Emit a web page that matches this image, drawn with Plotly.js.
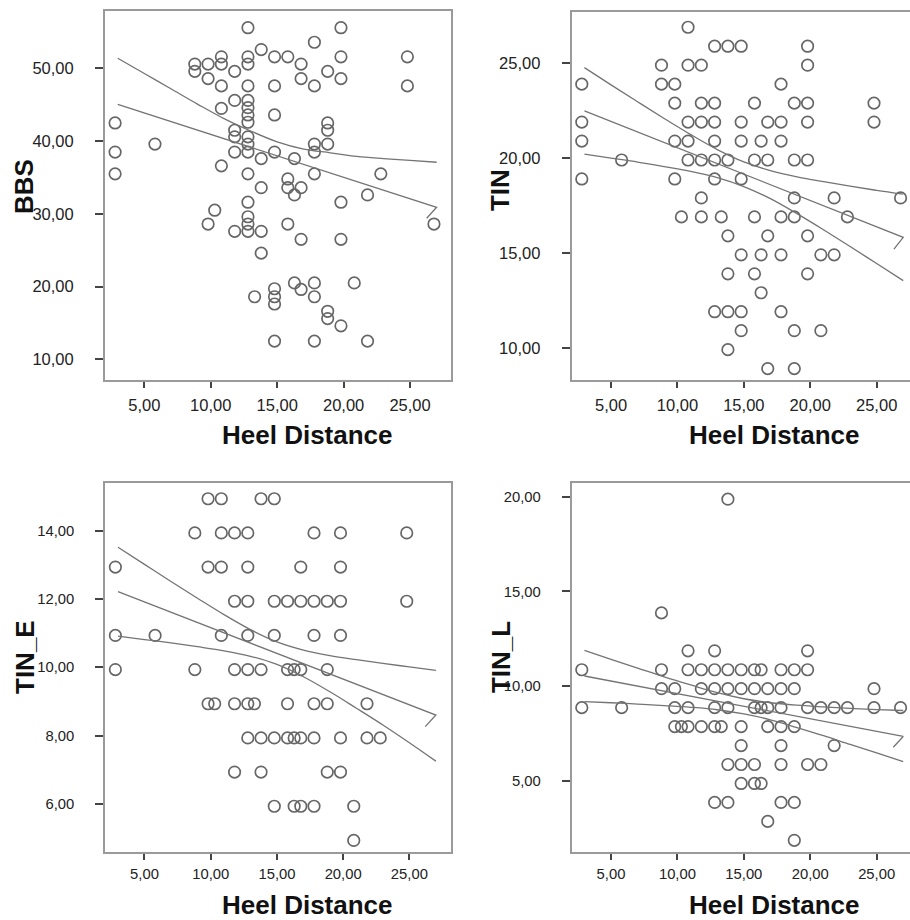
<!DOCTYPE html>
<html><head><meta charset="utf-8">
<script src="https://cdn.plot.ly/plotly-3.0.1.min.js"></script>
<style>html,body{margin:0;padding:0;background:#fff;}</style>
</head><body><div id="chart" style="width:910px;height:920px;"></div>
<script>
// ---------- data ----------
// Panel 1: BBS vs Heel Distance
const heelBBS = [2.8,2.8,2.8, 5.8, 8.8,8.8, 9.8,9.8,9.8, 10.3,
  10.8,10.8,10.8,10.8,10.8, 11.8,11.8,11.8,11.8,11.8,11.8,
  12.8,12.8,12.8,12.8,12.8,12.8,12.8,12.8,12.8,12.8,12.8,12.8,12.8,12.8,12.8,12.8,
  13.3, 13.8,13.8,13.8,13.8,13.8, 14.8,14.8,14.8,14.8,14.8,14.8,14.8,14.8,
  15.8,15.8,15.8,15.8, 16.3,16.3,16.3, 16.8,16.8,16.8,16.8,16.8,
  17.8,17.8,17.8,17.8,17.8,17.8,17.8,17.8, 18.8,18.8,18.8,18.8,18.8,18.8,
  19.8,19.8,19.8,19.8,19.8,19.8, 20.8, 21.8,21.8, 22.8, 24.8,24.8, 26.8];
const bbs = [42.5,38.5,35.5, 39.6, 50.6,49.6, 50.6,48.6,28.6, 30.5,
  51.6,50.6,47.6,44.5,36.6, 49.6,45.6,41.5,40.6,38.5,27.6,
  55.6,51.6,50.6,47.6,45.6,44.6,43.6,42.6,40.6,39.6,38.5,35.5,31.6,29.6,28.6,27.6,
  18.6, 52.6,37.6,33.6,27.6,24.6, 51.6,47.6,43.6,38.5,19.7,18.6,17.6,12.5,
  51.6,34.8,33.6,28.6, 37.6,32.6,20.5, 50.6,48.6,33.6,26.5,19.6,
  53.6,47.6,39.6,38.5,35.5,20.5,18.6,12.5, 49.6,42.5,41.5,39.6,16.6,15.6,
  55.6,51.6,48.6,31.6,26.5,14.6, 20.5, 32.6,12.5, 35.5, 51.6,47.6, 28.6];
const bbsFitX = [3, 27, 26.25];
const bbsFitY = [45.05, 30.9, 29.4];
const bandX = [3,5,7,9,11,13,15,17,19,21,23,25,27];
const bbsUpper = [51.4,49.3,47.2,45.1,43.1,41.4,39.9,38.9,38.4,37.9,37.6,37.35,37.1];

// Panel 2: TIN vs Heel Distance
const heelTIN = [10.8,
  12.8,13.8,14.8,19.8,
  8.8,10.8,11.8,19.8,
  2.8,8.8,9.8,17.8,
  9.8,11.8,12.8,15.8,18.8,19.8,24.8,
  2.8,10.8,11.8,12.8,14.8,16.8,17.8,19.8,24.8,
  2.8,9.8,10.8,12.8,14.8,16.3,17.8,
  5.8,10.8,11.8,12.8,13.8,15.8,16.8,18.8,19.8,
  2.8,9.8,12.8,14.8,
  11.8,18.8,21.8,26.8,
  10.3,11.8,13.3,15.8,17.8,18.8,22.8,
  13.8,16.8,19.8,
  14.8,16.3,17.8,20.8,21.8,
  13.8,15.8,19.8,
  16.3,
  12.8,13.8,14.8,17.8,
  14.8,18.8,20.8,
  13.8,
  16.8,18.8];
const tin = [26.9,
  25.9,25.9,25.9,25.9,
  24.9,24.9,24.9,24.9,
  23.9,23.9,23.9,23.9,
  22.9,22.9,22.9,22.9,22.9,22.9,22.9,
  21.9,21.9,21.9,21.9,21.9,21.9,21.9,21.9,21.9,
  20.9,20.9,20.9,20.9,20.9,20.9,20.9,
  19.9,19.9,19.9,19.9,19.9,19.9,19.9,19.9,19.9,
  18.9,18.9,18.9,18.9,
  17.9,17.9,17.9,17.9,
  16.9,16.9,16.9,16.9,16.9,16.9,16.9,
  15.9,15.9,15.9,
  14.9,14.9,14.9,14.9,14.9,
  13.9,13.9,13.9,
  12.9,
  11.9,11.9,11.9,11.9,
  10.9,10.9,10.9,
  9.9,
  8.9,8.9];
const tinFitX = [3, 27, 26.3];
const tinFitY = [22.49, 15.82, 15.2];
const tinUpper = [24.77,23.86,22.97,22.09,21.24,20.45,19.80,19.34,19.01,18.76,18.52,18.30,18.10];
const tinLower = [20.21,20.0,19.79,19.55,19.30,18.97,18.5,17.86,17.07,16.22,15.34,14.44,13.54];

// Panel 3: TIN_E vs Heel Distance
const heelTINE = [9.8,10.8,13.8,14.8,
  8.8,10.8,11.8,12.8,17.8,19.8,24.8,
  2.8,9.8,10.8,12.8,16.8,19.8,
  11.8,12.8,14.8,15.8,16.8,17.8,18.8,19.8,24.8,
  2.8,5.8,10.8,12.8,14.8,17.8,19.8,
  2.8,8.8,11.8,12.8,13.8,15.8,16.3,16.8,18.8,
  9.8,10.3,11.8,12.8,13.3,15.8,17.8,18.8,21.8,
  12.8,13.8,14.8,15.8,16.3,16.8,17.8,19.8,21.8,22.8,
  11.8,13.8,18.8,19.8,
  14.8,16.3,16.8,17.8,20.8,
  20.8];
const tinE = [14.93,14.93,14.93,14.93,
  13.93,13.93,13.93,13.93,13.93,13.93,13.93,
  12.93,12.93,12.93,12.93,12.93,12.93,
  11.93,11.93,11.93,11.93,11.93,11.93,11.93,11.93,11.93,
  10.93,10.93,10.93,10.93,10.93,10.93,10.93,
  9.93,9.93,9.93,9.93,9.93,9.93,9.93,9.93,9.93,
  8.93,8.93,8.93,8.93,8.93,8.93,8.93,8.93,8.93,
  7.93,7.93,7.93,7.93,7.93,7.93,7.93,7.93,7.93,7.93,
  6.93,6.93,6.93,6.93,
  5.93,5.93,5.93,5.93,5.93,
  4.93];
const tinEFitX = [3, 27, 26.2];
const tinEFitY = [12.21, 8.6, 8.26];
const tinEUpper = [13.51,13.01,12.51,12.02,11.54,11.10,10.74,10.50,10.34,10.22,10.11,10.01,9.91];
const tinELower = [10.91,10.81,10.71,10.60,10.48,10.32,10.08,9.72,9.28,8.80,8.31,7.79,7.25];

// Panel 4: TIN_L vs Heel Distance
const heelTINL = [13.8,
  8.8,
  10.8,12.8,19.8,
  2.8,8.8,10.8,11.8,12.8,13.8,14.8,15.8,16.3,17.8,18.8,19.8,
  8.8,9.8,11.8,12.8,13.8,14.8,15.8,16.8,17.8,18.8,24.8,
  2.8,5.8,9.8,10.8,12.8,13.8,15.8,16.3,16.8,17.8,19.8,20.8,21.8,22.8,24.8,26.8,
  9.8,10.3,10.8,11.8,12.8,13.3,14.8,16.8,17.8,18.8,
  14.8,17.8,21.8,
  13.8,14.8,15.8,17.8,19.8,20.8,
  14.8,15.8,16.3,
  12.8,13.8,17.8,18.8,
  16.8,
  18.8];
const tinL = [19.87,
  13.87,
  11.87,11.87,11.87,
  10.87,10.87,10.87,10.87,10.87,10.87,10.87,10.87,10.87,10.87,10.87,10.87,
  9.87,9.87,9.87,9.87,9.87,9.87,9.87,9.87,9.87,9.87,9.87,
  8.87,8.87,8.87,8.87,8.87,8.87,8.87,8.87,8.87,8.87,8.87,8.87,8.87,8.87,8.87,8.87,
  7.87,7.87,7.87,7.87,7.87,7.87,7.87,7.87,7.87,7.87,
  6.87,6.87,6.87,
  5.87,5.87,5.87,5.87,5.87,5.87,
  4.87,4.87,4.87,
  3.87,3.87,3.87,3.87,
  2.87,
  1.87];
const tinLFitX = [3, 27, 26.25];
const tinLFitY = [10.54, 7.35, 6.78];
const tinLUpper = [11.89,11.42,10.96,10.50,10.07,9.66,9.34,9.13,9.0,8.91,8.83,8.77,8.72];
const tinLLower = [9.19,9.13,9.06,8.98,8.89,8.76,8.54,8.23,7.82,7.39,6.93,6.48,6.02];

// tick labels
const heelTicks = [5,10,15,20,25];
const heelTickText = ['5,00','10,00','15,00','20,00','25,00'];
const bbsTicks = [10,20,30,40,50];
const bbsTickText = ['10,00','20,00','30,00','40,00','50,00'];
const tinTicks = [10,15,20,25];
const tinTickText = ['10,00','15,00','20,00','25,00'];
const tinETicks = [6,8,10,12,14];
const tinETickText = ['6,00','8,00','10,00','12,00','14,00'];
const tinLTicks = [5,10,15,20];
const tinLTickText = ['5,00','10,00','15,00','20,00'];

// ---------- styling ----------
const FONT = 'Liberation Sans, Arial, sans-serif';
const PT = '#666666', LN = '#747474';
function pts(x, y, xa, ya) {
  return {type:'scatter', mode:'markers', x, y, xaxis:xa, yaxis:ya, hoverinfo:'skip',
    marker:{symbol:'circle-open', size:11.5, color:PT, line:{width:1.7, color:PT}}};
}
function ln(x, y, xa, ya, smooth) {
  return {type:'scatter', mode:'lines', x, y, xaxis:xa, yaxis:ya, hoverinfo:'skip',
    line:{color:LN, width:1.3, shape: smooth ? 'spline' : 'linear'}};
}
function xAxis(domain, range, fs, anchor, so) {
  return {domain, range, anchor, tickvals:heelTicks, ticktext:heelTickText,
    ticks:'outside', ticklen:6, tickwidth:2, tickcolor:'#444',
    showline:true, linecolor:'#9a9a9a', linewidth:2, mirror:true,
    showgrid:false, zeroline:false, ticklabelstandoff:so,
    tickfont:{family:FONT, size:fs, color:'#222'}};
}
function yAxis(domain, range, tv, tt, fs, anchor, mirror) {
  return {domain, range, anchor, tickvals:tv, ticktext:tt,
    ticks:'outside', ticklen:8, tickwidth:2, tickcolor:'#444',
    showline:true, linecolor:'#9a9a9a', linewidth:2, mirror:mirror,
    showgrid:false, zeroline:false, ticklabelstandoff:18,
    tickfont:{family:FONT, size:fs, color:'#222'}};
}

const data = [
  pts(heelBBS, bbs, 'x', 'y'),
  ln(bandX, bbsUpper, 'x', 'y', true),
  ln(bbsFitX, bbsFitY, 'x', 'y', false),
  pts(heelTIN, tin, 'x2', 'y2'),
  ln(bandX, tinUpper, 'x2', 'y2', true),
  ln(bandX, tinLower, 'x2', 'y2', true),
  ln(tinFitX, tinFitY, 'x2', 'y2', false),
  pts(heelTINE, tinE, 'x3', 'y3'),
  ln(bandX, tinEUpper, 'x3', 'y3', true),
  ln(bandX, tinELower, 'x3', 'y3', true),
  ln(tinEFitX, tinEFitY, 'x3', 'y3', false),
  pts(heelTINL, tinL, 'x4', 'y4'),
  ln(bandX, tinLUpper, 'x4', 'y4', true),
  ln(bandX, tinLLower, 'x4', 'y4', true),
  ln(tinLFitX, tinLFitY, 'x4', 'y4', false)
];

const titleFont = {family:FONT, size:26, color:'#111', weight:'bold'};
function ttl(text, x, y, angle) {
  return {text:'<b>'+text+'</b>', xref:'paper', yref:'paper', x, y, xanchor:'center', yanchor:'middle',
    showarrow:false, textangle:angle, font:titleFont};
}

const layout = {
  width:910, height:920, margin:{l:0, r:0, t:0, b:0},
  paper_bgcolor:'#fff', plot_bgcolor:'#fff', showlegend:false,
  font:{family:FONT},
  xaxis:  xAxis([0.11538, 0.49615], [2.04, 28.12], 16.5, 'y', 3),
  yaxis:  yAxis([0.58696, 0.98804], [7.15, 57.9], bbsTicks, bbsTickText, 16.5, 'x', true),
  xaxis2: xAxis([0.62824, 1], [2.04, 27.51], 16.5, 'y2', 3),
  yaxis2: yAxis([0.58696, 0.98728], [8.3, 27.72], tinTicks, tinTickText, 16.5, 'x2', false),
  xaxis3: xAxis([0.11571, 0.49527], [2.04, 28.12], 14.8, 'y3', 2),
  yaxis3: yAxis([0.07424, 0.47533], [4.6, 15.4], tinETicks, tinETickText, 14.8, 'x3', true),
  xaxis4: xAxis([0.62824, 1], [2.04, 27.51], 14.8, 'y4', 2),
  yaxis4: yAxis([0.07424, 0.47533], [1.27, 20.74], tinLTicks, tinLTickText, 14.8, 'x4', false),
  annotations: [
    ttl('BBS', 0.0264, 0.7967, -90),
    ttl('TIN', 0.5495, 0.7935, -90),
    ttl('TIN_E', 0.0275, 0.2859, -90),
    ttl('TIN_L', 0.5506, 0.2859, -90),
    ttl('Heel Distance', 0.3374, 0.5272, 0),
    ttl('Heel Distance', 0.8516, 0.5272, 0),
    ttl('Heel Distance', 0.3374, 0.0163, 0),
    ttl('Heel Distance', 0.8516, 0.0163, 0)
  ]
};

Plotly.newPlot('chart', data, layout, {staticPlot:true, displayModeBar:false});
</script>
</body></html>
